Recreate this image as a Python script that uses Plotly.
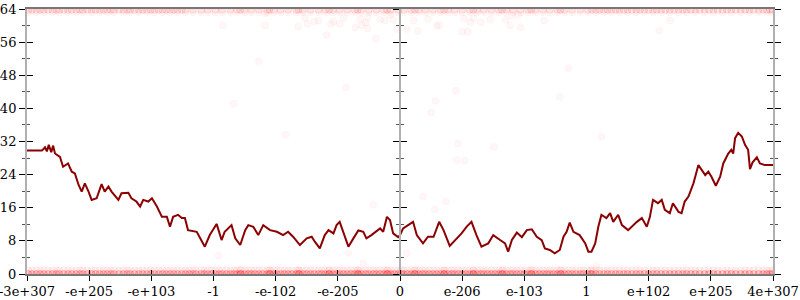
import plotly.graph_objects as go

# ---------------- data ----------------
tick_labels = ["-3e+307", "-e+205", "-e+103", "-1", "-e-102", "-e-205", "0",
               "e-206", "e-103", "1", "e+102", "e+205", "4e+307"]
tick_pos = list(range(len(tick_labels)))

line_x = [0.00, 0.24, 0.29, 0.32, 0.35, 0.39, 0.42, 0.45, 0.53, 0.58, 0.66, 0.72, 0.77,
          0.83, 0.88, 0.93, 0.99, 1.04, 1.12, 1.20, 1.25, 1.31, 1.36, 1.47, 1.52, 1.63,
          1.68, 1.76, 1.82, 1.87, 1.95, 2.01, 2.09, 2.17, 2.25, 2.30, 2.35, 2.43, 2.49,
          2.54, 2.59, 2.73, 2.78, 2.86, 2.94, 3.05, 3.13, 3.18, 3.29, 3.35, 3.43, 3.51,
          3.56, 3.64, 3.72, 3.80, 3.91, 4.02, 4.12, 4.20, 4.28, 4.39, 4.50, 4.58, 4.63,
          4.71, 4.79, 4.85, 4.93, 4.98, 5.03, 5.09, 5.17, 5.25, 5.33, 5.41, 5.46, 5.54,
          5.62, 5.68, 5.73, 5.79, 5.84, 5.89, 5.97, 6.00, 6.05, 6.13, 6.21, 6.27, 6.37,
          6.45, 6.54, 6.63, 6.70, 6.80, 6.91, 6.99, 7.07, 7.15, 7.23, 7.31, 7.42, 7.50,
          7.61, 7.69, 7.74, 7.80, 7.88, 7.96, 8.04, 8.12, 8.20, 8.28, 8.33, 8.41, 8.49,
          8.57, 8.63, 8.68, 8.73, 8.79, 8.89, 8.98, 9.03, 9.08, 9.14, 9.19, 9.24, 9.32,
          9.38, 9.43, 9.51, 9.57, 9.67, 9.75, 9.81, 9.89, 9.97, 10.02, 10.07, 10.15,
          10.21, 10.26, 10.34, 10.39, 10.48, 10.53, 10.58, 10.64, 10.72, 10.80, 10.85,
          10.91, 10.96, 11.01, 11.08, 11.15, 11.20, 11.28, 11.33, 11.36, 11.39, 11.44,
          11.50, 11.55, 11.60, 11.63, 11.67, 11.74, 11.79, 11.87, 12.00]
line_y = [29.8, 29.8, 30.6, 29.6, 31.2, 29.4, 31.0, 29.1, 28.3, 25.9, 26.7, 24.7, 24.3,
          21.5, 19.9, 21.9, 19.9, 17.9, 18.3, 21.7, 19.9, 21.1, 19.9, 17.9, 19.5, 19.6,
          18.3, 17.5, 16.3, 17.9, 17.5, 18.3, 16.3, 13.8, 13.8, 11.4, 13.8, 14.3, 13.5,
          13.5, 10.6, 10.2, 8.8, 6.6, 9.4, 12.1, 8.2, 10.2, 11.8, 8.6, 7.0, 10.6,
          11.8, 11.4, 9.4, 11.8, 10.6, 10.2, 9.4, 10.2, 9.0, 7.0, 8.6, 9.0, 7.8,
          6.2, 9.4, 10.6, 9.8, 11.8, 12.6, 10.2, 6.6, 8.6, 10.5, 10.2, 8.6, 9.4,
          10.2, 11.0, 10.2, 13.8, 13.0, 9.8, 8.9, 9.4, 11.0, 11.8, 12.6, 9.4, 7.4,
          9.0, 9.0, 12.6, 10.6, 6.8, 8.4, 9.8, 11.4, 12.6, 9.4, 6.6, 7.4, 9.4,
          8.2, 7.4, 5.4, 8.2, 10.0, 8.9, 10.6, 10.8, 9.0, 8.2, 6.2, 5.8, 5.0,
          5.8, 9.0, 10.2, 12.4, 10.2, 9.4, 7.4, 5.4, 5.4, 7.4, 11.4, 14.3, 13.5,
          14.7, 12.6, 14.3, 11.8, 10.6, 11.8, 12.6, 13.5, 11.4, 13.8, 17.9, 17.1,
          17.9, 15.5, 14.7, 17.1, 15.0, 14.7, 17.5, 18.7, 21.9, 26.3, 25.1,
          23.9, 24.7, 23.5, 21.3, 23.5, 26.7, 29.1, 30.0, 29.1, 32.8, 34.1,
          33.2, 31.2, 30.0, 25.3, 26.9, 28.2, 26.7, 26.3, 26.3]

band_x = [0.02, 0.15, 0.27, 0.41, 0.52, 0.66, 0.79, 0.90, 1.04, 1.17, 1.29, 1.40, 1.55,
          1.66, 1.80, 1.93, 2.05, 2.18, 2.30, 2.42, 2.55, 2.67, 2.80, 2.91, 3.03, 3.14,
          3.27, 3.38, 3.50, 3.61, 3.73, 3.86, 3.97, 4.08, 4.20, 4.33, 4.44, 4.56, 4.69,
          4.80, 4.92, 5.03, 5.15, 5.27, 5.38, 5.50, 5.62, 5.74, 5.85, 5.97, 6.06, 6.18,
          6.30, 6.41, 6.53, 6.65, 6.77, 6.88, 7.00, 7.12, 7.24, 7.35, 7.47, 7.59, 7.71,
          7.82, 7.94, 8.06, 8.18, 8.30, 8.41, 8.53, 8.65, 8.77, 8.90, 9.02, 9.15, 9.28,
          9.40, 9.53, 9.66, 9.80, 9.93, 10.07, 10.20, 10.34, 10.48, 10.61, 10.75, 10.90,
          11.04, 11.19, 11.33, 11.48, 11.62, 11.77, 11.90, 11.99]
band_x2 = [0.08, 0.21, 0.34, 0.47, 0.59, 0.72, 0.85, 0.97, 1.10, 1.23, 1.35, 1.48, 1.61,
           1.73, 1.86, 1.99, 2.12, 2.24, 2.36, 2.49, 3.43, 3.90, 4.37, 4.86, 5.32,
           5.79, 6.24, 6.71, 7.18, 7.64, 8.11, 8.58, 9.09, 9.21, 9.34, 9.47, 9.60,
           9.73, 9.86, 10.00, 10.13, 10.27, 10.41, 10.55, 10.68, 10.82, 10.97, 11.11,
           11.26, 11.40, 11.55, 11.69, 11.84, 11.95]
band_low_y = 0.0
band_low2_y = 0.9
band_top_y = 63.8
band_top2_y = 63.2

dense_x = [2.61, 2.72, 2.85, 2.97, 3.09, 3.21, 3.33, 3.44, 3.56, 3.67, 3.79, 3.91, 4.02,
           4.14, 4.26, 4.38, 4.50, 4.62, 4.74, 4.86, 4.98, 5.09, 5.21, 5.33, 5.45, 5.57,
           5.68, 5.80, 5.91, 6.02, 6.12, 6.24, 6.36, 6.47, 6.59, 6.71, 6.83, 6.94, 7.06,
           7.18, 7.30, 7.41, 7.53, 7.65, 7.77, 7.88, 8.00, 8.12, 8.24, 8.36, 8.47, 8.59,
           8.71, 8.83, 8.95, 9.07]

scatter_x = [3.15, 3.83, 3.83, 3.73, 3.32, 4.16, 4.36, 4.47, 4.51, 4.62, 4.69, 4.82, 4.89,
             4.93, 5.03, 5.09, 5.13, 5.28, 5.36, 5.38, 5.45, 5.48, 5.48, 5.61, 5.68, 5.76,
             5.84, 5.89, 5.96, 6.11, 6.22, 6.29, 6.45, 6.50, 6.57, 6.59, 6.63, 6.90, 6.93,
             7.00, 7.03, 7.09, 7.13, 7.18, 7.30, 7.45, 7.51, 7.70, 7.77, 7.80, 7.90, 7.94,
             8.32, 8.57, 8.71, 9.24, 10.17, 10.34, 3.08, 5.57, 5.17, 5.41, 6.91, 7.04,
             6.37, 6.56, 6.74, 6.11, 9.16]
scatter_y = [60.0, 63.0, 60.0, 51.4, 41.1, 33.7, 59.7, 61.8, 60.4, 61.0, 61.2, 57.7, 60.4,
             61.0, 60.4, 61.8, 45.1, 59.5, 61.5, 60.1, 60.7, 59.3, 62.0, 56.9, 61.4, 61.2,
             62.6, 61.4, 59.1, 59.1, 61.2, 58.7, 61.6, 39.0, 41.8, 59.9, 60.1, 44.3, 31.5,
             58.5, 61.7, 58.5, 60.8, 61.8, 60.8, 61.4, 30.7, 61.4, 60.0, 62.4, 62.6, 59.6,
             61.2, 42.8, 49.7, 33.2, 58.8, 61.2, 4.4, 16.7, 5.1, 2.6, 27.5, 27.4,
             18.7, 15.6, 17.5, 5.0, 1.8]

# ---------------- figure ----------------
FONT = "DejaVu Serif"
fig = go.Figure()


def pts(xs, ys, alpha_fill, alpha_line):
    return go.Scatter(
        x=xs, y=ys, mode="markers", showlegend=False, hoverinfo="skip",
        marker=dict(size=7, color=f"rgba(255,0,0,{alpha_fill})",
                    line=dict(width=1, color=f"rgba(255,0,0,{alpha_line})")))


fig.add_trace(pts(band_x, [band_low2_y] * len(band_x), 0.04, 0.05))
fig.add_trace(pts(band_x2, [band_low2_y] * len(band_x2), 0.04, 0.05))
fig.add_trace(pts(dense_x, [band_low2_y] * len(dense_x), 0.04, 0.05))
fig.add_trace(pts(band_x, [band_low_y] * len(band_x), 0.14, 0.22))
fig.add_trace(pts(band_x2, [band_low_y] * len(band_x2), 0.14, 0.22))
fig.add_trace(pts(dense_x, [band_low_y] * len(dense_x), 0.16, 0.25))
fig.add_trace(pts(band_x, [band_top2_y] * len(band_x), 0.03, 0.04))
fig.add_trace(pts(band_x, [band_top_y] * len(band_x), 0.08, 0.10))
fig.add_trace(pts(band_x2, [band_top_y] * len(band_x2), 0.08, 0.10))
fig.add_trace(pts(scatter_x, scatter_y, 0.03, 0.03))

fig.add_trace(go.Scatter(x=line_x, y=line_y, mode="lines", showlegend=False,
                         hoverinfo="skip",
                         line=dict(color="#8b0000", width=2)))

# dummy traces so the overlay axes are drawn
for ya in ["y2", "y3", "y4", "y5", "y6"]:
    fig.add_trace(go.Scatter(x=[None], y=[None], yaxis=ya, showlegend=False,
                             hoverinfo="skip"))
fig.add_trace(go.Scatter(x=[None], y=[None], xaxis="x2", showlegend=False,
                         hoverinfo="skip"))

yr = [0, 64]
xr = [0, 12]


def yax(side, ticks, showline, labels=False, anchor=None, position=None):
    d = dict(range=yr, tickmode="linear", tick0=0, dtick=8, ticks=ticks, ticklen=6,
             tickwidth=1, tickcolor="#000", showgrid=False, zeroline=False,
             showticklabels=labels, side=side, fixedrange=True, automargin=False,
             ticklabeloverflow="allow",
             showline=showline, linecolor="#b0b0b0", linewidth=2,
             minor=dict(ticks=ticks, dtick=4, tick0=0, ticklen=3, tickcolor="#555",
                        tickwidth=1, showgrid=False),
             tickfont=dict(family=FONT, size=13, color="#000"))
    if anchor:
        d["anchor"] = anchor
    if position is not None:
        d["position"] = position
    return d


fig.update_layout(
    width=800, height=300,
    margin=dict(l=27, r=27, t=9, b=26),
    paper_bgcolor="white", plot_bgcolor="white",
    xaxis=dict(range=xr, tickmode="array", tickvals=tick_pos, ticktext=tick_labels,
               ticks="outside", ticklen=5, tickcolor="#000", showgrid=False,
               zeroline=False, showline=True, linecolor="#777", linewidth=1.5,
               mirror=True, fixedrange=True, automargin=False,
               ticklabeloverflow="allow",
               tickfont=dict(family=FONT, size=13, color="#000")),
    xaxis2=dict(range=xr, overlaying="x", tickmode="array", tickvals=tick_pos,
                ticks="inside", ticklen=4, tickcolor="#000", showticklabels=False,
                showgrid=False, zeroline=False, showline=False, fixedrange=True,
                anchor="y", side="bottom", automargin=False),
    yaxis=yax("left", "outside", True, labels=True),
    yaxis2={**yax("left", "inside", False), "overlaying": "y", "anchor": "x"},
    yaxis3={**yax("right", "outside", True), "overlaying": "y", "anchor": "x"},
    yaxis4={**yax("right", "inside", False), "overlaying": "y", "anchor": "x"},
    yaxis5={**yax("left", "outside", True, anchor="free", position=0.5),
            "overlaying": "y"},
    yaxis6={**yax("left", "inside", False, anchor="free", position=0.5),
            "overlaying": "y"},
)

fig.write_html("out.html")
